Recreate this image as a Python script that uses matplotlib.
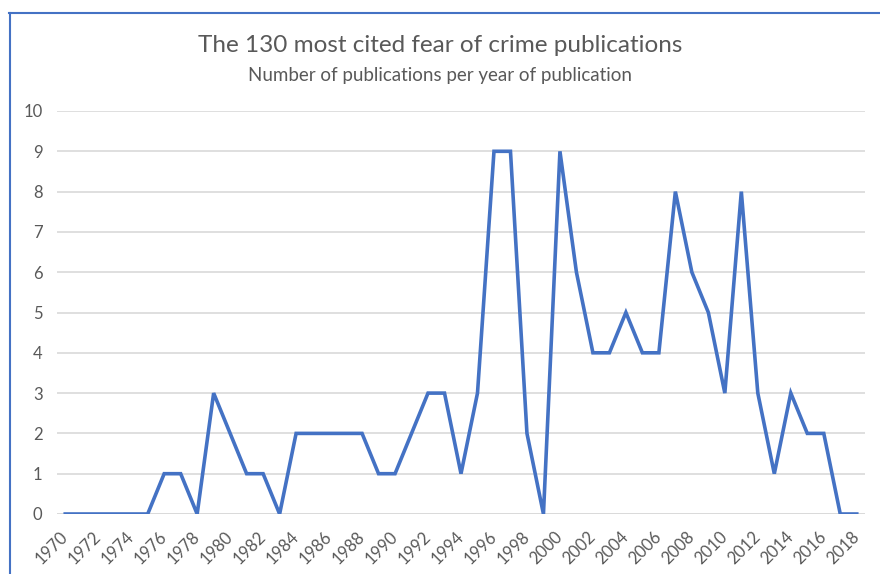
import matplotlib
matplotlib.use("Agg")
import matplotlib.pyplot as plt
from matplotlib.lines import Line2D

years = list(range(1970, 2019))
counts = [0, 0, 0, 0, 0, 0, 1, 1, 0, 3,
          2, 1, 1, 0, 2, 2, 2, 2, 2, 1,
          1, 2, 3, 3, 1, 3, 9, 9, 2, 0,
          9, 6, 4, 4, 5, 4, 4, 8, 6, 5,
          3, 8, 3, 1, 3, 2, 2, 0, 0]
title = "The 130 most cited fear of crime publications"
subtitle = "Number of publications per year of publication"
yticks = list(range(0, 11))

plt.rcParams['font.family'] = ['Lato', 'DejaVu Sans']
grey = '#595959'

fig = plt.figure(figsize=(8.8, 5.74), dpi=100)
ax = fig.add_axes([57/880, 60/574, 808/880, 403/574])

x = list(range(len(years)))
ax.plot(x, counts, color='#4472C4', lw=2.6, solid_joinstyle='miter', zorder=3)

ax.set_xlim(-0.5, len(years) - 0.5)
ax.set_ylim(0, 10)
ax.set_yticks(yticks)
ax.set_yticklabels([str(v) for v in yticks], color=grey, fontsize=12)
ax.set_xticks(x[::2])
ax.set_xticklabels([str(y) for y in years[::2]], rotation=45, ha='right', va='center',
                   rotation_mode='anchor', color=grey, fontsize=12)
ax.tick_params(axis='both', length=0)
ax.tick_params(axis='y', pad=10.5)
ax.tick_params(axis='x', pad=14.5)
ax.grid(axis='y', color='#D9D9D9', lw=1.2, zorder=0)
for s in ax.spines.values():
    s.set_visible(False)
ax.axhline(0, color='#D9D9D9', lw=1.2, zorder=1)

fig.text(0.5, 1 - 45/574, title, ha='center', va='center', fontsize=17.5, color=grey)
fig.text(0.5, 1 - 75/574, subtitle, ha='center', va='center', fontsize=13.5, color=grey)

# outer frame
fig.add_artist(Line2D([9/880, 1], [1 - 13/574, 1 - 13/574], color='#4472C4', lw=1.5,
                      transform=fig.transFigure))
fig.add_artist(Line2D([10/880, 10/880], [0, 1 - 13/574], color='#4472C4', lw=1.5,
                      transform=fig.transFigure))

fig.savefig('out.png', dpi=100)
